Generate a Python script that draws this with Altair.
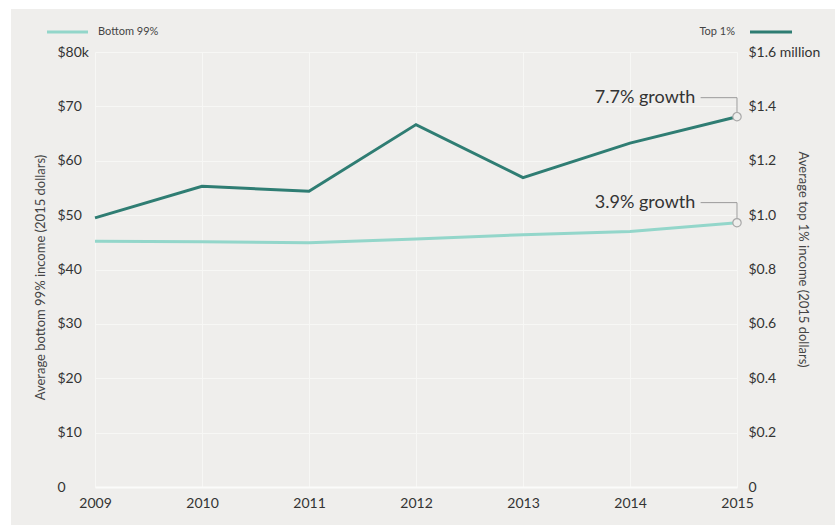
import altair as alt
import pandas as pd

# ---- data ----
years = [2009, 2010, 2011, 2012, 2013, 2014, 2015]
bottom99_k = [45.2, 45.1, 44.9, 45.6, 46.4, 47.0, 48.6]          # thousands of 2015 dollars
top1_m = [0.990, 1.106, 1.088, 1.333, 1.138, 1.265, 1.362]       # millions of 2015 dollars

ann_labels = ["3.9% growth", "7.7% growth"]
ann_label_level_bottom = 52.3   # left-scale level of the "3.9%" label
ann_label_level_top = 1.432     # right-scale level of the "7.7%" label
ann_label_year = 2014.61        # label right edge position
ann_leader_start = 2014.66

BG = "#efeeec"
DARK = "#2f7d73"
LIGHT = "#93d6ca"
FONT = "Lato"
TXT = "#333333"
TICK_FS = 14

bottom_df = pd.DataFrame({"year": years, "v": bottom99_k})
top_df = pd.DataFrame({"year": years, "v": top1_m})

x_enc = alt.X("year:Q", scale=alt.Scale(domain=[2009, 2015], nice=False, zero=False),
              axis=alt.Axis(values=years, format="d", title=None, ticks=False,
                            labelPadding=9, labelFontSize=TICK_FS, labelColor=TXT,
                            labelFont=FONT, grid=True, gridColor="#f7f7f5",
                            gridWidth=1, domainColor="#fbfbfa", domainWidth=2,
                            labelFlush=False))

left_axis = alt.Axis(values=[0, 10, 20, 30, 40, 50, 60, 70, 80],
                     labelExpr="datum.value == 0 ? '\u00a0\u00a0\u00a0\u00a0\u00a00' : (datum.value == 80 ? '$80k' : '$' + datum.value)",
                     title="Average bottom 99% income (2015 dollars)",
                     titleFont=FONT, titleFontSize=13, titleFontWeight="normal",
                     titleColor="#444444", titleX=-55, titleY=225, titleAngle=-90,
                     titleAlign="center", titleBaseline="middle",
                     labelAlign="left", labelPadding=38, ticks=False, domain=False,
                     labelFont=FONT, labelFontSize=TICK_FS, labelColor=TXT,
                     grid=True, gridColor="#f7f7f5", gridWidth=1.2)
right_axis = alt.Axis(values=[0, 0.2, 0.4, 0.6, 0.8, 1.0, 1.2, 1.4, 1.6], orient="right",
                      labelExpr="datum.value == 0 ? '0' : (datum.value > 1.55 ? '$1.6 million' : '$' + format(datum.value, '.1f'))",
                      title="Average top 1% income (2015 dollars)",
                      titleFont=FONT, titleFontSize=13, titleFontWeight="normal",
                      titleColor="#444444", titleX=65, titleY=207, titleAngle=90,
                      titleAlign="center", titleBaseline="middle",
                      labelAlign="left", labelPadding=11, ticks=False, domain=False,
                      labelFont=FONT, labelFontSize=TICK_FS, labelColor=TXT, grid=False)

y_left = alt.Y("v:Q", scale=alt.Scale(domain=[0, 80], nice=False), axis=left_axis)
y_right = alt.Y("v:Q", scale=alt.Scale(domain=[0, 1.6], nice=False), axis=right_axis)

# ---- left (bottom 99%) group ----
bottom_line = alt.Chart(bottom_df).mark_line(color=LIGHT, strokeWidth=3).encode(x=x_enc, y=y_left)
b_last = bottom_df.tail(1)
b_leader_df = pd.DataFrame({"year": [ann_leader_start, 2015, 2015],
                            "v": [ann_label_level_bottom, ann_label_level_bottom, bottom99_k[-1]],
                            "o": [0, 1, 2]})
b_leader = alt.Chart(b_leader_df).mark_line(color="#9a9a9a", strokeWidth=1).encode(
    x="year:Q", y=y_left, order="o:Q")
b_point = alt.Chart(b_last).mark_point(shape="circle", size=70, filled=True, fill=BG,
                                       stroke="#a8a8a8", strokeWidth=1.2, opacity=1).encode(x="year:Q", y=y_left)
b_text = alt.Chart(pd.DataFrame({"year": [ann_label_year], "v": [ann_label_level_bottom],
                                 "t": [ann_labels[0]]})).mark_text(
    align="right", baseline="middle", font=FONT, fontSize=18, color=TXT).encode(
    x="year:Q", y=y_left, text="t:N")
left_group = alt.layer(bottom_line, b_leader, b_point, b_text)

# ---- right (top 1%) group ----
top_line = alt.Chart(top_df).mark_line(color=DARK, strokeWidth=3).encode(x=x_enc, y=y_right)
t_last = top_df.tail(1)
t_leader_df = pd.DataFrame({"year": [ann_leader_start, 2015, 2015],
                            "v": [ann_label_level_top, ann_label_level_top, top1_m[-1]],
                            "o": [0, 1, 2]})
t_leader = alt.Chart(t_leader_df).mark_line(color="#9a9a9a", strokeWidth=1).encode(
    x="year:Q", y=y_right, order="o:Q")
t_point = alt.Chart(t_last).mark_point(shape="circle", size=70, filled=True, fill=BG,
                                       stroke="#a8a8a8", strokeWidth=1.2, opacity=1).encode(x="year:Q", y=y_right)
t_text = alt.Chart(pd.DataFrame({"year": [ann_label_year], "v": [ann_label_level_top],
                                 "t": [ann_labels[1]]})).mark_text(
    align="right", baseline="middle", font=FONT, fontSize=18, color=TXT).encode(
    x="year:Q", y=y_right, text="t:N")
right_group = alt.layer(top_line, t_leader, t_point, t_text)

# ---- legend + white page edges ----
one = pd.DataFrame({"a": [0]})
white_top = alt.Chart(one).mark_rect(color="white").encode(
    x=alt.value(-95), x2=alt.value(745), y=alt.value(-52), y2=alt.value(-43))
white_left = alt.Chart(one).mark_rect(color="white").encode(
    x=alt.value(-95), x2=alt.value(-84), y=alt.value(-52), y2=alt.value(480))
leg_b_line = alt.Chart(one).mark_rule(color=LIGHT, strokeWidth=3).encode(
    x=alt.value(-48), x2=alt.value(-7), y=alt.value(-20))
leg_b_text = alt.Chart(one).mark_text(align="left", baseline="middle", font=FONT,
                                      fontSize=11, color="#444444").encode(
    x=alt.value(3), y=alt.value(-20), text=alt.value("Bottom 99%"))
leg_t_line = alt.Chart(one).mark_rule(color=DARK, strokeWidth=3).encode(
    x=alt.value(655), x2=alt.value(697), y=alt.value(-20))
leg_t_text = alt.Chart(one).mark_text(align="right", baseline="middle", font=FONT,
                                      fontSize=11, color="#444444").encode(
    x=alt.value(640), y=alt.value(-20), text=alt.value("Top 1%"))

chart = alt.layer(
    left_group, right_group,
    white_top, white_left, leg_b_line, leg_b_text, leg_t_line, leg_t_text
).resolve_scale(y="independent").properties(
    width=642, height=435,
    background=BG,
    autosize=alt.AutoSizeParams(type="none"),
    padding={"left": 95, "top": 52, "right": 98, "bottom": 38},
).configure_view(stroke=None)

chart.save("out.html", embed_options={"renderer": "svg", "actions": False})
